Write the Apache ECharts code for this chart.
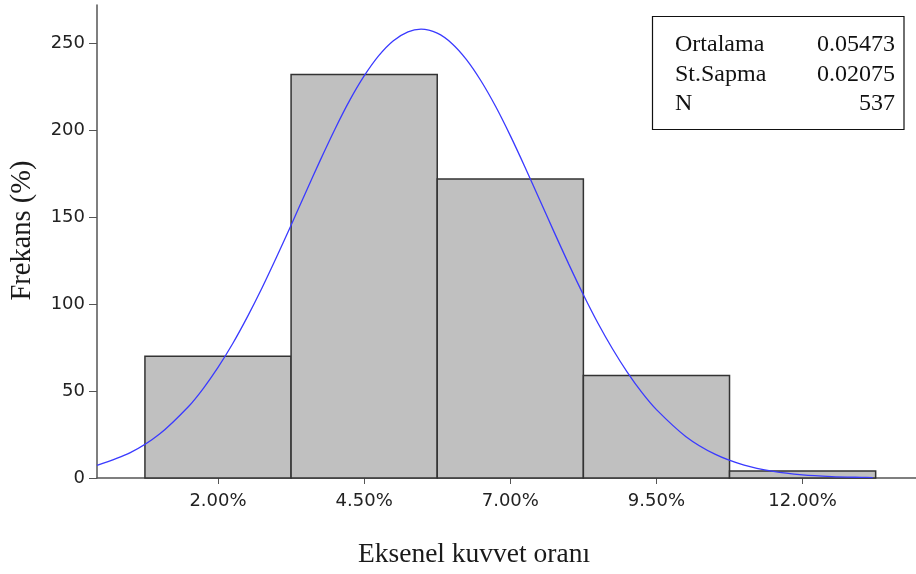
<!DOCTYPE html>
<html>
<head>
<meta charset="utf-8">
<script src="https://cdn.jsdelivr.net/npm/echarts@6/dist/echarts.min.js"></script>
<style>
  html, body { margin: 0; padding: 0; background: #fff; }
  #chart { width: 916px; height: 574px; }
</style>
</head>
<body>
<div id="chart"></div>
<script>
// Histogram bins (percent) and their frequencies
const binCenters = [2.0, 4.5, 7.0, 9.5, 12.0];
const binWidth = 2.5;
const counts = [70, 232, 172, 59, 4];

// Fitted normal curve, sampled along the axis (x in percent)
const curveX = [-0.07, 0.5, 1.0, 1.5, 1.75, 2.0, 2.25, 2.5, 2.75, 3.0, 3.25, 3.5, 3.75, 4.0, 4.25, 4.5, 4.75, 5.0, 5.25, 5.473, 5.75, 6.0, 6.25, 6.5, 6.75, 7.0, 7.25, 7.5, 7.75, 8.0, 8.25, 8.5, 8.75, 9.0, 9.25, 9.5, 10.0, 10.5, 11.0, 11.5, 12.0, 12.5, 13.0, 13.2];
const curveY = [7.3, 14.6, 25.3, 41.3, 51.6, 63.6, 77.2, 92.5, 109.1, 126.9, 145.4, 164.2, 182.8, 200.6, 217.0, 231.2, 242.9, 251.5, 256.6, 258.1, 255.8, 249.9, 240.6, 228.3, 213.6, 196.9, 178.9, 160.2, 141.4, 123.0, 105.4, 89.0, 74.2, 60.9, 49.2, 39.3, 23.9, 13.7, 7.4, 3.8, 1.8, 0.83, 0.36, 0.25];

// Tick marks
const xTicks = [2.0, 4.5, 7.0, 9.5, 12.0];
const yTicks = [0, 50, 100, 150, 200, 250];

// Summary statistics box
const statLabels = ['Ortalama', 'St.Sapma', 'N'];
const statValues = ['0.05473', '0.02075', '537'];

const serif = '"Liberation Serif", "DejaVu Serif", serif';
const sans = '"DejaVu Sans", "Liberation Sans", sans-serif';
const chart = echarts.init(document.getElementById('chart'), null, { renderer: 'canvas' });

const barData = binCenters.map((c, i) => [c - binWidth / 2, c + binWidth / 2, counts[i]]);
const lineData = curveX.map((x, i) => [x, curveY[i]]);

const statGraphics = [{
  type: 'rect',
  shape: { x: 652.5, y: 16.5, width: 251.5, height: 113 },
  style: { fill: '#fff', stroke: '#111', lineWidth: 1.2 },
  z: 10
}];
statLabels.forEach((t, i) => {
  statGraphics.push({
    type: 'text', left: 675, top: 33 + i * 29.3, z: 11,
    style: { text: t, font: '24px ' + serif, fill: '#111' }
  });
  statGraphics.push({
    type: 'text', right: 21, top: 33 + i * 29.3, z: 11,
    style: { text: statValues[i], font: '24px ' + serif, fill: '#111', align: 'right' }
  });
});

chart.setOption({
  animation: false,
  backgroundColor: '#fff',
  grid: { left: 96, right: 0, top: 5, bottom: 95 },
  xAxis: {
    type: 'value', min: -0.07, max: 13.94,
    name: 'Eksenel kuvvet oranı', nameLocation: 'middle', nameGap: 63,
    nameTextStyle: { fontFamily: serif, fontSize: 27.5, color: '#1a1a1a', padding: [0, 65, 0, 0] },
    axisLine: { show: true, onZero: false, lineStyle: { color: '#555', width: 1.5 } },
    axisTick: { show: true, length: 6, customValues: xTicks, lineStyle: { color: '#555' } },
    axisLabel: {
      customValues: xTicks, margin: 14,
      formatter: v => v.toFixed(2) + '%',
      fontFamily: sans, fontSize: 18, color: '#222'
    },
    splitLine: { show: false }
  },
  yAxis: {
    type: 'value', min: 0, max: 272,
    name: 'Frekans (%)', nameLocation: 'middle', nameGap: 60, nameRotate: 90,
    nameTextStyle: { fontFamily: serif, fontSize: 28.5, color: '#1a1a1a', padding: [0, 0, 0, 22] },
    axisLine: { show: true, onZero: false, lineStyle: { color: '#555', width: 1.5 } },
    axisTick: { show: true, length: 8, customValues: yTicks, lineStyle: { color: '#555' } },
    axisLabel: { customValues: yTicks, margin: 12, fontFamily: sans, fontSize: 18, color: '#222' },
    splitLine: { show: false }
  },
  series: [
    {
      type: 'custom',
      data: barData,
      encode: { x: [0, 1], y: 2 },
      renderItem: (params, api) => {
        const p0 = api.coord([api.value(0), api.value(2)]);
        const p1 = api.coord([api.value(1), 0]);
        return {
          type: 'rect',
          shape: { x: p0[0], y: p0[1], width: p1[0] - p0[0], height: p1[1] - p0[1] },
          style: { fill: '#c0c0c0', stroke: '#333', lineWidth: 1.5 }
        };
      },
      z: 2
    },
    {
      type: 'line',
      data: lineData,
      smooth: 0.3,
      showSymbol: false,
      lineStyle: { color: '#3a3aff', width: 1.3 },
      z: 3
    }
  ],
  graphic: statGraphics
});
</script>
</body>
</html>
